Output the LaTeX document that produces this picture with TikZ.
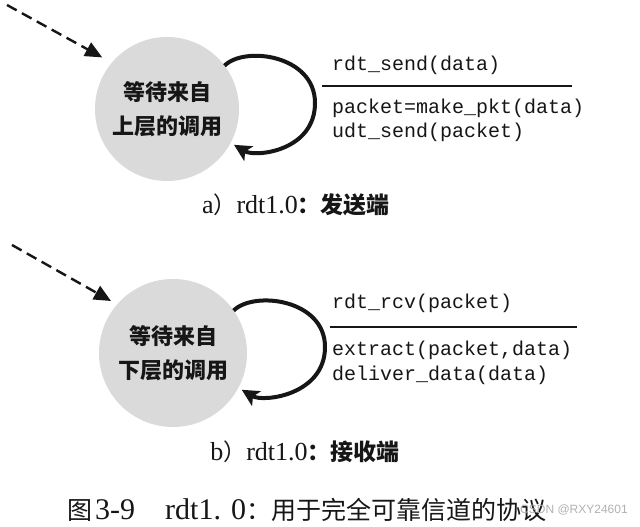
\documentclass[tikz,border=0pt]{standalone}
\usepackage{fontspec}
\setmainfont{Liberation Serif}
\setmonofont{Liberation Mono}
\setsansfont{Liberation Sans}
\newfontfamily\cjk{Noto Sans CJK SC}
\usetikzlibrary{arrows.meta}
\definecolor{ink}{RGB}{22,22,22}
\definecolor{statefill}{RGB}{218,218,218}
\tikzset{
  state/.style={circle, fill=statefill, draw=none, inner sep=0pt, outer sep=0pt,
    align=center, text=ink, font=\cjk\bfseries\fontsize{22}{34}\selectfont},
  selfloop/.style={draw=ink, line width=4pt, -{Stealth[length=17pt,width=17pt,inset=4pt]}},
  initarrow/.style={draw=ink, line width=2.4pt, dash pattern=on 11pt off 6pt,
    -{Triangle[length=17pt,width=15pt]}},
  guard/.style={anchor=west, inner sep=0pt, text=ink, font=\ttfamily\fontsize{20}{20}\selectfont},
  sepline/.style={draw=ink, line width=1.8pt},
  subcap/.style={inner sep=0pt, text=ink, font=\fontsize{26}{26}\selectfont},
  figcap/.style={anchor=west, inner sep=0pt, text=ink, font=\fontsize{30}{30}\selectfont},
  wmark/.style={inner sep=0pt, text=gray!60, font=\sffamily\fontsize{12}{12}\selectfont}
}
\begin{document}
\begin{tikzpicture}[x=1pt,y=1pt]
\useasboundingbox[fill=white] (0,0) rectangle (640,527);

% ---------- a) sender ----------
\node[state, minimum size=144pt] (sa) at (167,418) {等待来自\\上层的调用};
\coordinate (ina) at (7,522);
\draw[initarrow, shorten >=11pt] (ina) -- (sa.140);
\coordinate (ra) at (315,424);
\draw[selfloop, shorten >=4pt] (sa.37) .. controls +(20,20) and +(0,48) .. (ra)
      .. controls +(0,-48) and +(25,-15) .. (sa.-28);
\node[guard] (ga1) at (332,462) {rdt\_send(data)};
\draw[sepline] (322,441) -- (572,441);
\node[guard] (ga2) at (332,419) {packet=make\_pkt(data)};
\node[guard] (ga3) at (332,395) {udt\_send(packet)};
\node[subcap] (capa) at (296,322) {a{\cjk\fontsize{23}{23}\selectfont ）}rdt1.0{\cjk\bfseries\fontsize{23}{23}\selectfont ：发送端}};

% ---------- b) receiver ----------
\node[state, minimum size=148pt] (sb) at (173,174) {等待来自\\下层的调用};
\coordinate (inb) at (12,282);
\draw[initarrow, shorten >=7pt] (inb) -- (sb.139);
\coordinate (rb) at (325,180);
\draw[selfloop, shorten >=4pt] (sb.35) .. controls +(20,20) and +(0,48) .. (rb)
      .. controls +(0,-48) and +(25,-15) .. (sb.-28);
\node[guard] (gb1) at (332,224) {rdt\_rcv(packet)};
\draw[sepline] (330,200) -- (577,200);
\node[guard] (gb2) at (332,177) {extract(packet,data)};
\node[guard] (gb3) at (332,152) {deliver\_data(data)};
\node[subcap] (capb) at (305,75) {b{\cjk\fontsize{23}{23}\selectfont ）}rdt1.0{\cjk\bfseries\fontsize{23}{23}\selectfont ：接收端}};

% ---------- figure caption ----------
\node[figcap] (fig) at (67,17) {{\cjk\fontsize{25}{25}\selectfont 图}\hspace{3pt}3-9\hspace{30pt}rdt1.\hspace{10pt}0{\cjk\fontsize{25}{25}\selectfont ：用于完全可靠信道的协议}};
\node[wmark] (wm) at (574,17) {CSDN @RXY24601};
\end{tikzpicture}
\end{document}
